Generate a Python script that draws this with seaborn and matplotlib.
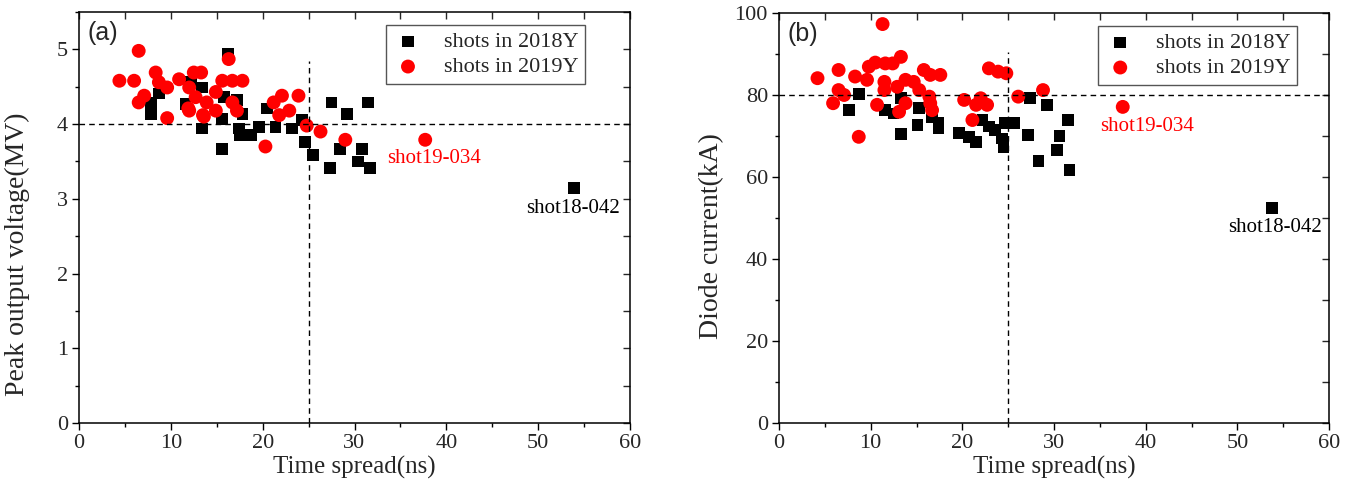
import matplotlib
matplotlib.use("Agg")
import matplotlib.pyplot as plt
from matplotlib.ticker import MultipleLocator
import seaborn as sns
import pandas as pd

sns.set_style("ticks")
plt.rcParams["font.family"] = ["Liberation Serif", "DejaVu Serif"]

# ---- (a) peak output voltage vs time spread ----
a18_t = [7.8, 7.8, 8.7, 11.6, 12.2, 13.4, 13.4, 15.6, 15.6, 15.8, 16.2, 17.2, 17.8,
         17.4, 17.5, 18.7, 19.6, 20.5, 21.4, 23.2, 24.3, 24.6, 25.5, 27.3, 27.5,
         28.4, 29.2, 30.4, 30.8, 31.5, 31.7, 53.9]
a18_v = [4.14, 4.29, 4.41, 4.27, 4.56, 4.49, 3.94, 4.07, 3.67, 4.36, 4.94, 4.32, 4.14,
         3.94, 3.85, 3.85, 3.96, 4.21, 3.96, 3.94, 4.05, 3.76, 3.59, 3.41, 4.29,
         3.67, 4.13, 3.50, 3.67, 4.29, 3.41, 3.14]
a19_t = [4.4, 6.0, 6.5, 7.1, 6.5, 8.35, 8.7, 9.6, 9.6, 10.9, 12.0, 12.5, 13.3, 12.0,
         12.7, 13.6, 13.9, 14.9, 15.6, 16.7, 17.8, 16.3, 16.7, 17.2, 14.9, 11.9,
         13.5, 20.3, 21.2, 22.1, 21.8, 22.9, 23.9, 24.8, 26.3, 29.0, 37.7]
a19_v = [4.58, 4.58, 4.98, 4.38, 4.29, 4.69, 4.56, 4.08, 4.49, 4.60, 4.49, 4.69, 4.69, 4.18,
         4.36, 4.10, 4.29, 4.18, 4.58, 4.58, 4.58, 4.87, 4.29, 4.18, 4.43, 4.21,
         4.12, 3.70, 4.29, 4.38, 4.12, 4.18, 4.38, 3.98, 3.90, 3.79, 3.79]

# ---- (b) diode current vs time spread ----
b18_t = [7.6, 8.7, 11.6, 12.5, 13.3, 13.3, 15.1, 15.3, 16.7, 17.4, 17.4, 19.6, 20.7,
         21.5, 22.2, 22.9, 23.6, 24.3, 24.5, 24.6, 25.7, 27.2, 27.4, 28.3, 29.2,
         30.3, 30.6, 31.5, 31.7, 53.8]
b18_i = [76.3, 80.2, 76.3, 75.5, 79.2, 70.5, 72.7, 76.8, 74.7, 73.1, 71.9, 70.7, 69.8,
         68.6, 73.9, 72.3, 71.5, 69.4, 67.4, 73.2, 73.2, 70.2, 79.2, 63.9, 77.6,
         66.6, 70.0, 73.9, 61.7, 52.4]
b19_t = [4.2, 5.9, 6.5, 6.5, 7.1, 8.3, 8.7, 9.6, 9.8, 10.5, 10.7, 11.3, 11.5, 11.5,
         11.6, 12.4, 12.9, 13.1, 13.3, 13.8, 13.8, 14.7, 15.3, 15.8, 16.4, 16.5,
         16.5, 16.7, 17.6, 20.2, 21.1, 21.5, 22.0, 22.7, 22.9, 23.9, 24.8, 26.1,
         28.8, 37.5]
b19_i = [84.1, 78.0, 86.1, 81.2, 80.0, 84.5, 69.8, 83.7, 86.9, 87.9, 77.6, 97.3, 83.2, 81.2,
         87.7, 87.7, 82.0, 75.9, 89.3, 83.7, 78.0, 83.2, 81.2, 86.1, 79.6, 84.9,
         78.0, 76.3, 84.9, 78.8, 73.9, 77.6, 79.2, 77.6, 86.5, 85.7, 85.3, 79.6,
         81.2, 77.1]

legend_labels = ["shots in 2018Y", "shots in 2019Y"]
outlier_labels = ["shot19-034", "shot18-042"]

W, H = 1354, 499
fig = plt.figure(figsize=(W / 100, H / 100), dpi=100)
ax_a = fig.add_axes([79 / W, 1 - 423 / H, 551 / W, 411 / H])
ax_b = fig.add_axes([779 / W, 1 - 423 / H, 550 / W, 410 / H])

SQ = 72
CI = 100
DASH = (0, (4, 3))


def draw_panel(ax, t18, y18, t19, y19):
    df18 = pd.DataFrame({"t": t18, "y": y18})
    df19 = pd.DataFrame({"t": t19, "y": y19})
    sns.scatterplot(data=df18, x="t", y="y", ax=ax, marker="s", s=SQ, color="black",
                    edgecolor="none", linewidth=0, label=legend_labels[0], zorder=3)
    sns.scatterplot(data=df19, x="t", y="y", ax=ax, marker="o", s=CI, color="#ff0000",
                    edgecolor="none", linewidth=0, label=legend_labels[1], zorder=4)


def style_axes(ax, ymax, ymaj, ymin):
    ax.set_xlim(0, 60)
    ax.set_ylim(0, ymax)
    ax.xaxis.set_major_locator(MultipleLocator(10))
    ax.xaxis.set_minor_locator(MultipleLocator(5))
    ax.yaxis.set_major_locator(MultipleLocator(ymaj))
    ax.yaxis.set_minor_locator(MultipleLocator(ymin))
    for s in ax.spines.values():
        s.set_visible(True)
        s.set_linewidth(1.1)
        s.set_color("black")
    ax.tick_params(which="both", direction="out", top=False, right=False,
                   labelsize=16, width=1.0, color="black", pad=3)
    ax.tick_params(which="major", length=5)
    ax.tick_params(which="minor", length=3)
    # inward ticks mirrored on top and right
    sec_x = ax.secondary_xaxis("top")
    sec_x.xaxis.set_major_locator(MultipleLocator(10))
    sec_x.xaxis.set_minor_locator(MultipleLocator(5))
    sec_x.tick_params(which="both", direction="in", length=5, labeltop=False, width=1.0)
    sec_x.spines["top"].set_visible(False)
    sec_y = ax.secondary_yaxis("right")
    sec_y.yaxis.set_major_locator(MultipleLocator(ymaj))
    sec_y.yaxis.set_minor_locator(MultipleLocator(ymin))
    sec_y.tick_params(which="both", direction="in", length=5, labelright=False, width=1.0)
    sec_y.spines["right"].set_visible(False)
    ax.set_xlabel("Time spread(ns)", fontsize=18, labelpad=2)


def legend(ax, xr):
    lg = ax.legend(loc="upper right", bbox_to_anchor=(xr, 0.968), borderaxespad=0,
                   fontsize=16, frameon=True, fancybox=False, handletextpad=0.9,
                   borderpad=0.3, labelspacing=0.2, handlelength=1.4,
                   markerscale=1.0)
    fr = lg.get_frame()
    fr.set_edgecolor("#555555")
    fr.set_linewidth(1.0)
    fr.set_alpha(1.0)
    lg.set_zorder(10)


# panel (a)
draw_panel(ax_a, a18_t, a18_v, a19_t, a19_v)
style_axes(ax_a, 5.5, 1, 0.5)
ax_a.axhline(4.0, color="black", lw=1.0, ls=DASH, zorder=5)
ax_a.plot([25, 25], [0, 4.85], color="black", lw=1.0, ls=DASH, zorder=5)
ax_a.set_ylabel("Peak output voltage(MV)", fontsize=20)
ax_a.yaxis.set_label_coords(-0.089, 0.41)
ax_a.text(38.7, 3.54, outlier_labels[0], color="#ff0000", fontsize=15, ha="center", va="center")
ax_a.text(53.8, 2.87, outlier_labels[1], color="black", fontsize=15, ha="center", va="center")
ax_a.text(0.016, 0.977, "(a)", transform=ax_a.transAxes, fontsize=18, ha="left", va="top",
          family=["Liberation Sans", "DejaVu Sans"])
legend(ax_a, 0.918)

# panel (b)
draw_panel(ax_b, b18_t, b18_i, b19_t, b19_i)
style_axes(ax_b, 100, 20, 10)
ax_b.axhline(80, color="black", lw=1.0, ls=DASH, zorder=5)
ax_b.plot([25, 25], [0, 90.5], color="black", lw=1.0, ls=DASH, zorder=5)
ax_b.set_ylabel("Diode current(kA)", fontsize=20)
ax_b.yaxis.set_label_coords(-0.1, 0.456)
ax_b.text(40.2, 72.4, outlier_labels[0], color="#ff0000", fontsize=15, ha="center", va="center")
ax_b.text(54.1, 47.6, outlier_labels[1], color="black", fontsize=15, ha="center", va="center")
ax_b.text(0.016, 0.977, "(b)", transform=ax_b.transAxes, fontsize=18, ha="left", va="top",
          family=["Liberation Sans", "DejaVu Sans"])
legend(ax_b, 0.942)

fig.savefig("out.png", dpi=100, facecolor="white")
